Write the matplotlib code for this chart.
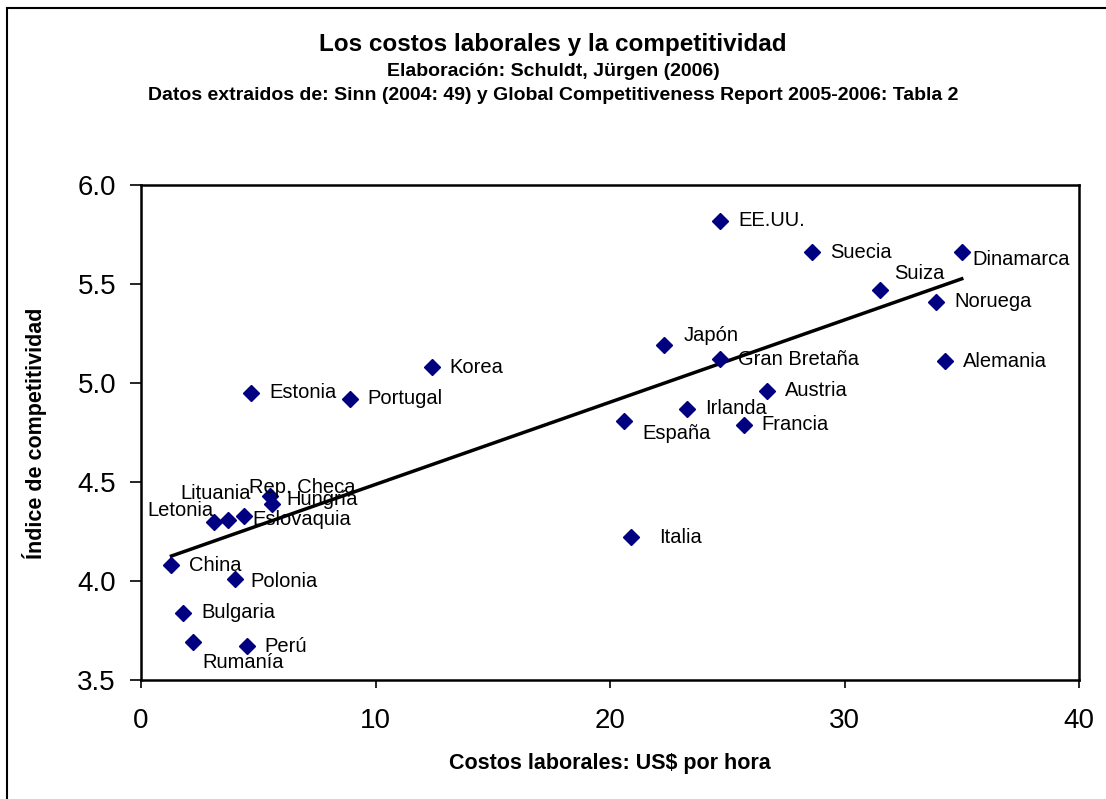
import numpy as np
import matplotlib
matplotlib.use("Agg")
import matplotlib.pyplot as plt
from matplotlib.patches import Rectangle

plt.rcParams['font.family'] = ['Liberation Sans', 'DejaVu Sans']

paises = ["EE.UU.", "Suecia", "Dinamarca", "Suiza", "Noruega", "Japón",
          "Gran Bretaña", "Alemania", "Austria", "Irlanda", "España", "Francia",
          "Italia", "Korea", "Estonia", "Portugal", "Rep. Checa", "Hungría",
          "Eslovaquia", "Lituania", "Letonia", "China", "Polonia", "Bulgaria",
          "Rumanía", "Perú"]
costos = [24.7, 28.6, 35.0, 31.5, 33.9, 22.3,
          24.7, 34.3, 26.7, 23.3, 20.6, 25.7,
          20.9, 12.4, 4.7, 8.9, 5.5, 5.6,
          4.4, 3.7, 3.1, 1.3, 4.0, 1.8,
          2.2, 4.5]
indice = [5.82, 5.66, 5.66, 5.47, 5.41, 5.19,
          5.12, 5.11, 4.96, 4.87, 4.81, 4.79,
          4.22, 5.08, 4.95, 4.92, 4.43, 4.39,
          4.33, 4.31, 4.30, 4.08, 4.01, 3.84,
          3.69, 3.67]

# label offsets in pixels (dx, dy), dy positive = up
offsets = {"Dinamarca": (11, -7), "Suiza": (14, 16), "Japón": (20, 10),
           "España": (18, -13), "Italia": (28, 0), "Rep. Checa": (-21, 8),
           "Hungría": (14, 4), "Eslovaquia": (8, -4), "Lituania": (-47, 26),
           "Letonia": (-66, 11), "Polonia": (16, -2), "Rumanía": (10, -20)}

fig = plt.figure(figsize=(11.06, 7.99), dpi=100)
ax = fig.add_axes([141 / 1106, 1 - 680 / 799, 938 / 1106, 495 / 799])

ax.plot(costos, indice, 'D', color='#000080', markersize=8, zorder=3)

# linear trend
m, b = np.polyfit(costos, indice, 1)
xs = np.array([min(costos), max(costos)])
ax.plot(xs, m * xs + b, color='black', lw=2.5, zorder=2)

for p, x, y in zip(paises, costos, indice):
    dx, dy = offsets.get(p, (18, 0))
    ax.annotate(p, (x, y), xytext=(dx, dy), textcoords='offset pixels',
                ha='left', va='center', fontsize=14.5)

ax.set_xlim(0, 40)
ax.set_ylim(3.5, 6.0)
ax.set_xticks([0, 10, 20, 30, 40])
ax.set_yticks([3.5, 4.0, 4.5, 5.0, 5.5, 6.0])
ax.set_yticklabels(["3.5", "4.0", "4.5", "5.0", "5.5", "6.0"])
ax.tick_params(labelsize=20, width=1.2, direction='out')
ax.tick_params(axis='x', length=6, pad=14)
ax.tick_params(axis='y', length=8, pad=10)
for s in ax.spines.values():
    s.set_linewidth(1.8)

fig.text(610 / 1106, 1 - 764 / 799, "Costos laborales: US$ por hora",
         ha='center', va='center', fontsize=15.5, fontweight='bold')
fig.text(35 / 1106, 1 - 433 / 799, "Índice de competitividad", rotation=90,
         ha='center', va='center', fontsize=15.5, fontweight='bold')

fig.text(0.5, 1 - 44 / 799, "Los costos laborales y la competitividad",
         ha='center', va='center', fontsize=17.5, fontweight='bold')
fig.text(0.5, 1 - 71 / 799, "Elaboración: Schuldt, Jürgen (2006)",
         ha='center', va='center', fontsize=14, fontweight='bold')
fig.text(0.5, 1 - 96 / 799,
         "Datos extraidos de: Sinn (2004: 49) y Global Competitiveness Report 2005-2006: Tabla 2",
         ha='center', va='center', fontsize=14, fontweight='bold')

fig.patches.append(Rectangle((7 / 1106, -0.1), 1.2, 1 - 8 / 799 + 0.1,
                             transform=fig.transFigure, fill=False,
                             edgecolor='black', lw=1.5))

fig.savefig("out.png", dpi=100)
